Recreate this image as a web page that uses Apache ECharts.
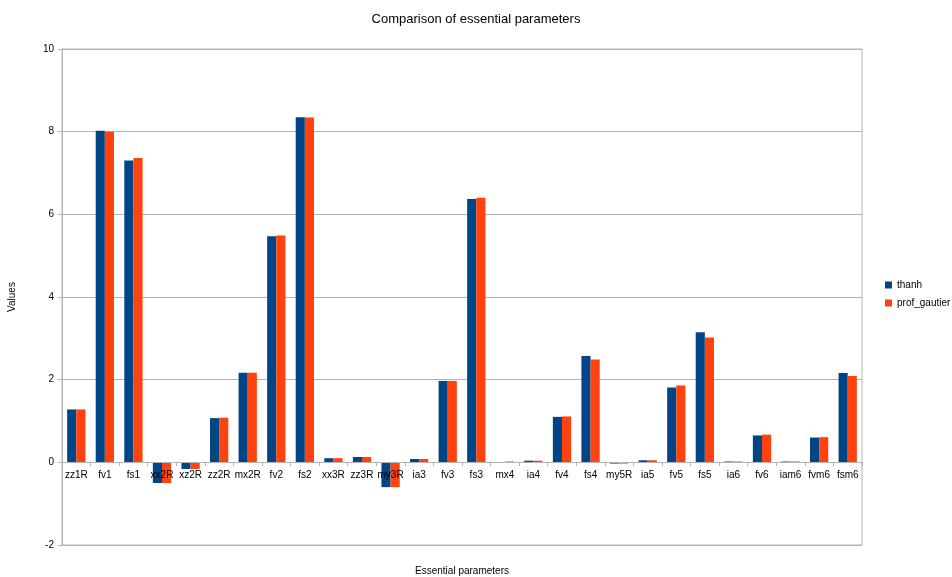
<!DOCTYPE html>
<html><head><meta charset="utf-8">
<script src="https://cdn.jsdelivr.net/npm/echarts@6/dist/echarts.min.js"></script>
<style>html,body{margin:0;padding:0;background:#fff}#c{width:952px;height:577px}</style>
</head><body><div id="c"></div>
<script>
const categories = ["zz1R","fv1","fs1","xx2R","xz2R","zz2R","mx2R","fv2","fs2","xx3R","zz3R","my3R","ia3","fv3","fs3","mx4","ia4","fv4","fs4","my5R","ia5","fv5","fs5","ia6","fv6","iam6","fvm6","fsm6"];
const thanh = [1.28,8.02,7.30,-0.50,-0.16,1.07,2.17,5.47,8.35,0.10,0.13,-0.60,0.08,1.97,6.37,0.00,0.04,1.10,2.57,-0.03,0.05,1.81,3.15,0.02,0.65,0.02,0.60,2.16];
const profGautier = [1.28,8.00,7.36,-0.50,-0.16,1.08,2.17,5.49,8.34,0.10,0.13,-0.60,0.08,1.97,6.40,0.02,0.04,1.11,2.49,-0.03,0.05,1.86,3.02,0.02,0.67,0.02,0.61,2.09];
const yTicks = [-2,0,2,4,6,8,10];

const chart = echarts.init(document.getElementById('c'));
const font = 'Liberation Sans';
chart.setOption({
  animation:false,
  textStyle:{fontFamily:font},
  title:{text:'Comparison of essential parameters',left:'center',top:8,
    textStyle:{fontFamily:font,fontSize:13,fontWeight:'normal',color:'#000'}},
  legend:{orient:'vertical',left:880,top:275,itemWidth:7,itemHeight:7,itemGap:8,
    icon:'rect',textStyle:{fontFamily:font,fontSize:10,color:'#000'},
    data:['thanh','prof_gautier']},
  grid:{left:62,right:90,top:49,bottom:32,show:true,borderColor:'#b3b3b3',borderWidth:1,
    outerBoundsMode:'none',containLabel:false},
  xAxis:{type:'category',data:categories,z:5,
    name:'Essential parameters',nameLocation:'middle',nameGap:104,
    nameTextStyle:{fontFamily:font,fontSize:10,color:'#000'},
    offset:-83,
    axisLine:{onZero:false,lineStyle:{color:'#b3b3b3'}},
    axisTick:{show:true,length:4,lineStyle:{color:'#b3b3b3'}},
    axisLabel:{fontFamily:font,fontSize:10,color:'#000',interval:0,margin:8}},
  yAxis:{type:'value',min:-2,max:10,interval:2,
    name:'Values',nameLocation:'middle',nameGap:45,nameRotate:90,
    nameTextStyle:{fontFamily:font,fontSize:10,color:'#000'},
    axisLine:{show:true,lineStyle:{color:'#b3b3b3'}},
    axisTick:{show:true,length:4,lineStyle:{color:'#b3b3b3'}},
    axisLabel:{fontFamily:font,fontSize:10,color:'#000',margin:8,
      formatter:v=>yTicks.includes(v)?String(v):''},
    splitLine:{lineStyle:{color:'#b3b3b3'}}},
  series:[
    {name:'thanh',type:'bar',data:thanh,itemStyle:{color:'#004586'},barGap:'0%',barCategoryGap:'36%'},
    {name:'prof_gautier',type:'bar',data:profGautier,itemStyle:{color:'#ff420e'}}
  ]
});
</script></body></html>
